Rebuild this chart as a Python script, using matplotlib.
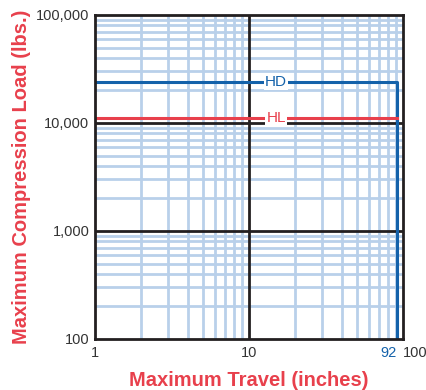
import numpy as np
import matplotlib
matplotlib.use("Agg")
import matplotlib.pyplot as plt
from matplotlib.ticker import FixedLocator, NullFormatter

# ---------- data ----------
max_travel = 92           # inches
hd_load = 24000           # lbs
hl_load = 11200           # lbs
y_ticks = [100, 1000, 10000, 100000]
y_labels = ["100", "1,000", "10,000", "100,000"]
x_ticks = [1, 10, 100]
x_labels = ["1", "10", "100"]

RED = "#e8404c"
BLUE = "#1462aa"
GRID = "#b9d0ea"
TXT = "#333333"

plt.rcParams["font.family"] = ["Liberation Sans", "DejaVu Sans"]

fig = plt.figure(figsize=(4.27, 3.90), dpi=100)
ax = fig.add_axes([95 / 427, 51 / 390, 308 / 427, 324 / 390])
ax.set_xscale("log")
ax.set_yscale("log")
ax.set_xlim(1, 100)
ax.set_ylim(100, 100000)

# ---------- grid ----------
minor_x = [k * d for d in (1, 10) for k in range(2, 10)]
minor_y = [k * d for d in (100, 1000, 10000) for k in range(2, 10)]
for v in minor_x:
    ax.axvline(v, color=GRID, lw=2, zorder=1)
for v in minor_y:
    ax.axhline(v, color=GRID, lw=2, zorder=1)
ax.axvline(10, color="#231f20", lw=2, zorder=2)
for v in (1000, 10000):
    ax.axhline(v, color="#231f20", lw=2, zorder=2)

# ---------- HD / HL curves ----------
ax.plot([1, max_travel, max_travel], [hd_load, hd_load, 100], color=BLUE, lw=2.2,
        zorder=3)
ax.plot([1, max_travel], [hl_load, hl_load], color=RED, lw=2.2, zorder=3)
ax.text(15, hd_load, "HD", color=BLUE, fontsize=11, ha="center", va="center",
        zorder=4, bbox=dict(facecolor="white", edgecolor="none", pad=1))
ax.text(15, hl_load, "HL", color=RED, fontsize=11, ha="center", va="center",
        zorder=4, bbox=dict(facecolor="white", edgecolor="none", pad=1))

# ---------- axes ----------
for s in ax.spines.values():
    s.set_color("#231f20")
    s.set_linewidth(2)
    s.set_zorder(5)
ax.xaxis.set_major_locator(FixedLocator(x_ticks))
ax.yaxis.set_major_locator(FixedLocator(y_ticks))
ax.xaxis.set_minor_formatter(NullFormatter())
ax.yaxis.set_minor_formatter(NullFormatter())
ax.set_xticklabels(x_labels)
ax.set_yticklabels(y_labels)
ax.tick_params(which="both", length=0, labelsize=10.5, colors=TXT)
ax.tick_params(axis="x", pad=5)
ax.tick_params(axis="y", pad=4)
# "100" sits to the right of its gridline so "92" fits next to it
for lbl in ax.get_xticklabels():
    if lbl.get_text() == "100":
        lbl.set_horizontalalignment("left")
ax.annotate(str(max_travel), xy=(max_travel, 100), xytext=(-0.5, -5),
            textcoords="offset points", color=BLUE, fontsize=10.5, ha="right",
            va="top")

ax.set_xlabel("Maximum Travel (inches)", color=RED, fontsize=14.5,
              fontweight="bold", labelpad=8)
ax.set_ylabel("Maximum Compression Load (lbs.)", color=RED, fontsize=14.5,
              fontweight="bold", labelpad=4)

fig.savefig("out.png", dpi=100)
